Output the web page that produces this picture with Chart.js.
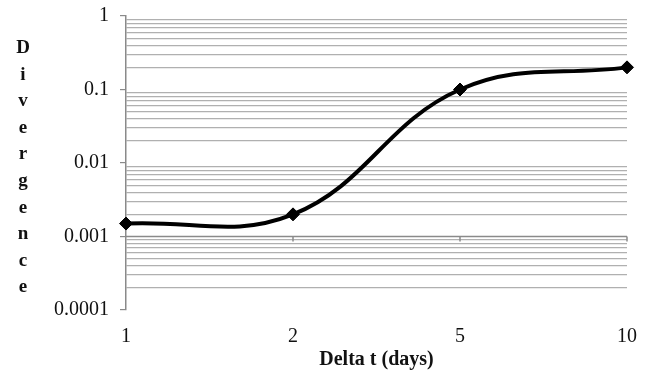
<!DOCTYPE html>
<html>
<head>
<meta charset="utf-8">
<script src="https://cdn.jsdelivr.net/npm/chart.js@4.4.0/dist/chart.umd.min.js"></script>
<style>
html, body { margin: 0; padding: 0; background: #fff; }
#wrap { width: 650px; height: 375px; }
</style>
</head>
<body>
<div id="wrap"><canvas id="grafico" width="650" height="375"></canvas></div>
<script>
// dados do gráfico
const deltaT = ['1', '2', '5', '10'];
const divergencia = [0.0015, 0.002, 0.1, 0.2];
const decadas = [1, 0.1, 0.01, 0.001, 0.0001];
const decadasLabels = ['1', '0.1', '0.01', '0.001', '0.0001'];
const tituloY = 'Divergence';
const tituloX = 'Delta t (days)';
const cruzaEm = 0.001; // eixo horizontal cruza aqui

const fonte = "'Liberation Serif', 'Times New Roman', serif";

function ehDecada(v) {
    const l = Math.log10(v);
    return Math.abs(l - Math.round(l)) < 1e-9;
}

// ticks menores 2..9 de cada década
function montarTicks() {
    const lista = [];
    decadas.forEach(d => {
        lista.push({ value: d, major: true });
        if (d < 1) {
            for (let m = 2; m <= 9; m++) lista.push({ value: m * d, major: false });
        }
    });
    return lista.sort((a, b) => a.value - b.value);
}

// linha do eixo X passando em 0.001, com marcas
const eixoCruzado = {
    id: 'eixoCruzado',
    beforeDatasetsDraw(chart) {
        const { ctx, chartArea, scales } = chart;
        const y = scales.y.getPixelForValue(cruzaEm);
        ctx.save();
        ctx.strokeStyle = '#8a8a8a';
        ctx.lineWidth = 1.5;
        ctx.beginPath();
        ctx.moveTo(chartArea.left, y);
        ctx.lineTo(chartArea.right, y);
        deltaT.forEach((_, i) => {
            if (i === 0) return;
            const x = scales.x.getPixelForValue(i);
            ctx.moveTo(x, y);
            ctx.lineTo(x, y + 5);
        });
        ctx.stroke();
        ctx.restore();
    }
};

// título vertical letra por letra
const tituloVertical = {
    id: 'tituloVertical',
    afterDraw(chart) {
        const ctx = chart.ctx;
        ctx.save();
        ctx.fillStyle = '#111';
        ctx.font = "bold 19px " + fonte;
        ctx.textAlign = 'center';
        ctx.textBaseline = 'alphabetic';
        tituloY.split('').forEach((letra, i) => {
            ctx.fillText(letra, 23, 53 + i * 26.6);
        });
        ctx.restore();
    }
};

const ctx = document.getElementById('grafico').getContext('2d');
new Chart(ctx, {
    type: 'line',
    data: {
        labels: deltaT,
        datasets: [{
            data: divergencia,
            borderColor: '#000',
            backgroundColor: '#000',
            borderWidth: 4,
            tension: 0.4,
            pointStyle: 'rectRot',
            pointRadius: 6.5,
            pointBorderWidth: 1,
            pointBackgroundColor: '#000',
            clip: false
        }]
    },
    options: {
        responsive: false,
        animation: false,
        devicePixelRatio: 1,
        layout: { padding: { top: 16, right: 23, bottom: 0, left: 0 } },
        plugins: {
            legend: { display: false },
            tooltip: { enabled: false }
        },
        scales: {
            x: {
                type: 'category',
                offset: false,
                grid: { display: false },
                border: { display: false },
                ticks: {
                    color: '#111',
                    font: { family: fonte, size: 20 },
                    padding: 7,
                    maxRotation: 0,
                    autoSkip: false
                },
                title: {
                    display: true,
                    text: tituloX,
                    color: '#111',
                    font: { family: fonte, size: 20, weight: 'bold' },
                    padding: { top: 0, bottom: 3 }
                },
                afterFit(scale) {
                    scale.height = 65;
                    scale.paddingLeft = 0;
                    scale.paddingRight = 0;
                }
            },
            y: {
                type: 'logarithmic',
                min: 0.0001,
                max: 1,
                afterBuildTicks(scale) { scale.ticks = montarTicks(); },
                grid: {
                    color: c => (c.tick && !ehDecada(c.tick.value)) ? '#b0b0b0' : 'rgba(0,0,0,0)',
                    tickColor: c => (c.tick && ehDecada(c.tick.value)) ? '#8a8a8a' : 'rgba(0,0,0,0)',
                    lineWidth: 1.2,
                    tickLength: 6
                },
                border: { color: '#8a8a8a', width: 1.5 },
                ticks: {
                    autoSkip: false,
                    color: '#111',
                    font: { family: fonte, size: 20 },
                    padding: 11,
                    callback: v => {
                        const i = decadas.findIndex(d => Math.abs(d - v) < d * 1e-6);
                        return i >= 0 ? decadasLabels[i] : '';
                    }
                },
                afterFit(scale) {
                    scale.width = 126;
                    scale.paddingTop = 0;
                    scale.paddingBottom = 0;
                }
            }
        }
    },
    plugins: [eixoCruzado, tituloVertical]
});
</script>
</body>
</html>
